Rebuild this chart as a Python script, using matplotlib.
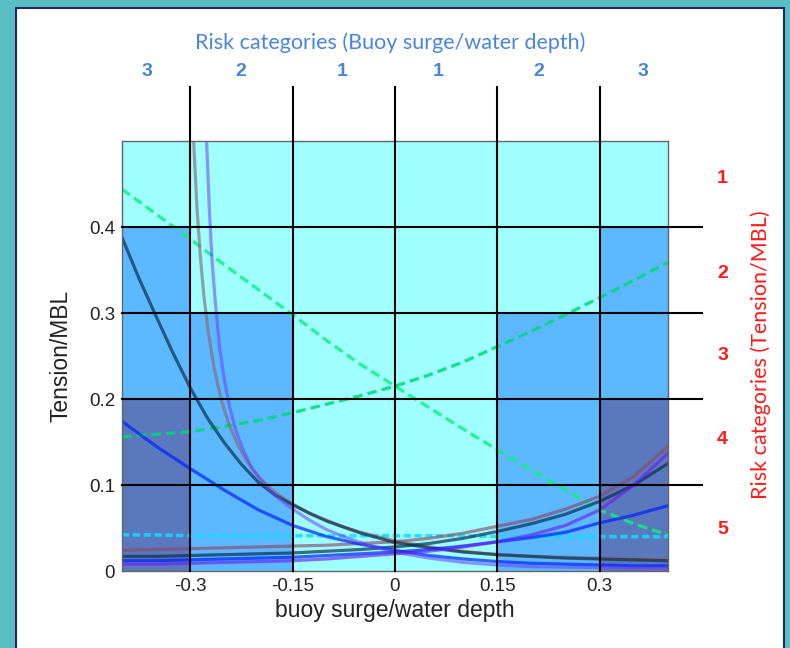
import numpy as np
import matplotlib
matplotlib.use("Agg")
import matplotlib.pyplot as plt
from matplotlib.patches import Rectangle

# --- risk zones ---
col_edges = [-0.4, -0.3, -0.15, 0.15, 0.3, 0.4]
blue_top = [0.4, 0.3, 0.0, 0.3, 0.4]
dark_top = [0.2, 0.0, 0.0, 0.0, 0.2]
grid_x = [-0.3, -0.15, 0, 0.15, 0.3]
grid_y = [0.1, 0.2, 0.3, 0.4]

x_ticks = [-0.3, -0.15, 0, 0.15, 0.3]
x_tick_labels = ["-0.3", "-0.15", "0", "0.15", "0.3"]
y_ticks = [0, 0.1, 0.2, 0.3, 0.4]
y_tick_labels = ["0", "0.1", "0.2", "0.3", "0.4"]

top_cat_x = [-0.3635, -0.226, -0.077, 0.063, 0.21, 0.3635]
top_cat = ["3", "2", "1", "1", "2", "3"]
right_cat_y = [0.456, 0.346, 0.2506, 0.153, 0.048]
right_cat = ["1", "2", "3", "4", "5"]

# --- curves ---
xs = [-0.4, -0.35, -0.3, -0.25, -0.2, -0.15, -0.1, -0.05, 0,
      0.05, 0.1, 0.15, 0.2, 0.25, 0.3, 0.35, 0.4]

green_dec = [0.444, 0.415, 0.386, 0.356, 0.327, 0.298, 0.268, 0.240, 0.215,
             0.190, 0.165, 0.141, 0.117, 0.094, 0.071, 0.055, 0.042]
green_inc = [0.156, 0.159, 0.162, 0.168, 0.175, 0.184, 0.194, 0.204, 0.215,
             0.228, 0.243, 0.261, 0.279, 0.298, 0.318, 0.338, 0.359]
cyan_flat = [0.042, 0.042, 0.041, 0.041, 0.041, 0.041, 0.041, 0.041, 0.041,
             0.041, 0.041, 0.040, 0.040, 0.040, 0.040, 0.040, 0.040]

navy_inc = [0.017, 0.017, 0.018, 0.019, 0.020, 0.021, 0.023, 0.025, 0.028,
            0.032, 0.038, 0.046, 0.055, 0.066, 0.081, 0.100, 0.125]
blue_dec = [0.174, 0.145, 0.119, 0.094, 0.071, 0.053, 0.040, 0.031, 0.024,
            0.018, 0.014, 0.011, 0.009, 0.008, 0.007, 0.006, 0.006]
blue_inc = [0.012, 0.012, 0.013, 0.014, 0.015, 0.016, 0.018, 0.020, 0.022,
            0.025, 0.029, 0.034, 0.039, 0.045, 0.056, 0.065, 0.076]
mauve_inc = [0.024, 0.025, 0.026, 0.027, 0.028, 0.029, 0.030, 0.032, 0.034,
             0.038, 0.044, 0.052, 0.060, 0.072, 0.087, 0.110, 0.145]
purple_inc = [0.008, 0.008, 0.009, 0.010, 0.011, 0.012, 0.014, 0.017, 0.020,
              0.023, 0.028, 0.034, 0.042, 0.053, 0.071, 0.100, 0.137]

navy_dec_x = [-0.4, -0.375, -0.35, -0.325, -0.3, -0.275, -0.25, -0.225, -0.2,
              -0.175, -0.15, -0.125, -0.1, -0.075, -0.05, 0, 0.05, 0.1, 0.15,
              0.2, 0.25, 0.3, 0.35, 0.4]
navy_dec = [0.388, 0.340, 0.296, 0.253, 0.213, 0.178, 0.149, 0.124, 0.103,
            0.088, 0.077, 0.067, 0.058, 0.051, 0.044, 0.033, 0.027, 0.022, 0.019,
            0.017, 0.015, 0.014, 0.013, 0.012]

# steep ones start where they leave the top of the plot
mauve_dec_x = [-0.295, -0.29, -0.285, -0.28, -0.274, -0.265, -0.255, -0.243,
               -0.23, -0.215, -0.2, -0.185, -0.17, -0.15, -0.125, -0.1,
               -0.075, -0.05, -0.025, 0, 0.05, 0.1, 0.15, 0.2, 0.3, 0.4]
mauve_dec = [0.50, 0.42, 0.364, 0.32, 0.28, 0.236, 0.200, 0.170,
             0.146, 0.125, 0.110, 0.098, 0.088, 0.078, 0.067, 0.059,
             0.051, 0.045, 0.040, 0.035, 0.028, 0.023, 0.019, 0.017, 0.015, 0.014]
purple_dec_x = [-0.276, -0.272, -0.268, -0.263, -0.257, -0.25, -0.242, -0.233,
                -0.222, -0.21, -0.195, -0.18, -0.165, -0.15, -0.125, -0.1,
                -0.075, -0.05, -0.025, 0, 0.05, 0.1, 0.15, 0.2, 0.3, 0.4]
purple_dec = [0.50, 0.42, 0.36, 0.31, 0.26, 0.222, 0.190, 0.163,
              0.140, 0.120, 0.104, 0.091, 0.081, 0.072, 0.059, 0.048,
              0.040, 0.033, 0.027, 0.022, 0.015, 0.010, 0.007, 0.005, 0.004, 0.003]

CYAN = "#a0ffff"
BLUE = "#5cb9ff"
DARK = "#5a78be"

fig = plt.figure(figsize=(7.9, 6.48), dpi=100)
fig.patch.set_facecolor("#5bbec5")
fig.add_artist(Rectangle((16 / 790, -0.01), (784 - 16) / 790, 1 - 8 / 648 + 0.01,
                         transform=fig.transFigure, facecolor="white",
                         edgecolor="#1d2b5e", lw=1.5, zorder=0))

ax = fig.add_axes([122 / 790, 1 - 571 / 648, 546 / 790, 430 / 648])
ax.set_facecolor(CYAN)
ax.set_xlim(-0.4, 0.4)
ax.set_ylim(0, 0.5)

widths = np.diff(col_edges)
ax.bar(col_edges[:-1], blue_top, width=widths, align="edge", color=BLUE, zorder=0.5)
ax.bar(col_edges[:-1], dark_top, width=widths, align="edge", color=DARK, zorder=0.6)

lw = 2.3
ax.plot(xs, green_dec, color="#10f080", lw=lw, alpha=0.85, dashes=(3, 1.6), zorder=2)
ax.plot(xs, green_inc, color="#00d878", lw=lw, alpha=0.85, dashes=(3, 1.6), zorder=2)
ax.plot(xs, cyan_flat, color="#10dcff", lw=2.6, alpha=0.85, dashes=(2, 1), zorder=2)

ax.plot(mauve_dec_x, mauve_dec, color="#8a6a78", lw=lw, alpha=0.65, zorder=2)
ax.plot(xs, mauve_inc, color="#8a4a6a", lw=lw, alpha=0.65, zorder=2)
ax.plot(navy_dec_x, navy_dec, color="#0a3050", lw=lw, alpha=0.7, zorder=2)
ax.plot(xs, navy_inc, color="#0a3050", lw=lw, alpha=0.7, zorder=2)
ax.plot(xs, blue_dec, color="#0022ff", lw=lw, alpha=0.7, zorder=2)
ax.plot(xs, blue_inc, color="#0022ff", lw=lw, alpha=0.7, zorder=2)
ax.plot(purple_dec_x, purple_dec, color="#6a3cff", lw=lw, alpha=0.55, zorder=2)
ax.plot(xs, purple_inc, color="#6a22ee", lw=lw, alpha=0.65, zorder=2)

# grid lines, extended outside the axes
for gx in grid_x:
    ax.plot([gx, gx], [0, 0.563], color="black", lw=1.5, clip_on=False, zorder=4)
for gy in grid_y:
    ax.plot([-0.4, 0.45], [gy, gy], color="black", lw=1.5, clip_on=False, zorder=4)

for s in ax.spines.values():
    s.set_color("#666666")
    s.set_linewidth(1)
ax.set_xticks(x_ticks, x_tick_labels)
ax.set_yticks(y_ticks, y_tick_labels)
ax.tick_params(length=0, labelsize=13.5, pad=5, labelcolor="#222222")
for t in ax.get_xticklabels() + ax.get_yticklabels():
    t.set_family("Liberation Sans")

ax.set_xlabel("buoy surge/water depth", fontsize=16.5, family="Liberation Sans",
              color="#222222", labelpad=3)
ax.set_ylabel("Tension/MBL", fontsize=16.5, family="Liberation Sans",
              color="#222222", labelpad=12)

# top categories
ax.text(-0.007, 0.614, "Risk categories (Buoy surge/water depth)", color="#4a86d8",
        fontsize=15.5, family="Lato", ha="center", va="center", clip_on=False)
for cx, c in zip(top_cat_x, top_cat):
    ax.text(cx, 0.581, c, color="#4a86d8", fontsize=14, fontweight="bold",
            family="Liberation Sans", ha="center", va="center", clip_on=False)

# right categories
for cy, c in zip(right_cat_y, right_cat):
    ax.text(0.480, cy, c, color="#ff1a1a", fontsize=14, fontweight="bold",
            family="Liberation Sans", ha="center", va="center", clip_on=False)
ax.text(0.536, 0.252, "Risk categories (Tension/MBL)", color="#ff1a1a",
        fontsize=15.5, family="Lato", rotation=90, ha="center", va="center",
        clip_on=False)

fig.savefig("out.png", dpi=100)
